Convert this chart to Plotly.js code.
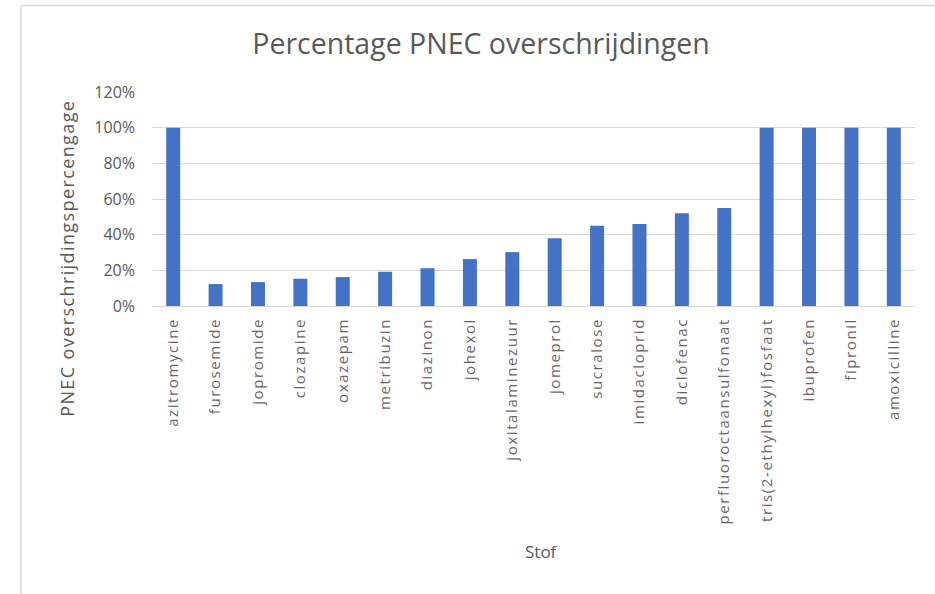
<!DOCTYPE html>
<html>
<head>
<meta charset="utf-8">
<script src="https://cdn.plot.ly/plotly-3.0.1.min.js"></script>
<style>
html,body{margin:0;padding:0;background:#fff;}
#chart{width:935px;height:594px;}
.xtick text{letter-spacing:1.6px;}
</style>
</head>
<body>
<div id="chart"></div>
<script>
const categories = ["azitromycine","furosemide","jopromide","clozapine","oxazepam","metribuzin","diazinon","johexol","joxitalaminezuur","jomeprol","sucralose","imidacloprid","diclofenac","perfluoroctaansulfonaat","tris(2-ethylhexyl)fosfaat","ibuprofen","fipronil","amoxicilline"];
const percentages = [1.00,0.123,0.134,0.153,0.162,0.192,0.212,0.263,0.302,0.38,0.45,0.46,0.52,0.55,1.00,1.00,1.00,1.00];
const chartTitle = "Percentage PNEC overschrijdingen";
const xTitle = "Stof";
const yTitle = "PNEC overschrijdingspercengage";

const L = 152, R = 915, T = 91.7, B = 306.3;
const pw = R - L, ph = B - T;
const px = x => (x - L) / pw;
const py = y => (B - y) / ph;

const trace = {
  type: 'bar',
  x: categories,
  y: percentages,
  marker: {color: '#4472C4'},
  hoverinfo: 'x+y'
};

const layout = {
  width: 935, height: 594,
  margin: {l: L, r: 935 - R, t: T, b: 594 - B},
  paper_bgcolor: '#ffffff', plot_bgcolor: '#ffffff',
  showlegend: false,
  bargap: 0.67,
  font: {family: 'Open Sans, sans-serif', color: '#595959'},
  title: {text: chartTitle, font: {family: 'Open Sans, sans-serif', size: 28.5, color: '#595959'}, x: px(481), xref: 'paper', xanchor: 'center', y: 1 - 44/594, yanchor: 'middle'},
  xaxis: {
    type: 'category',
    tickangle: -90,
    tickfont: {family: 'Open Sans, sans-serif', size: 15, color: '#666666'},
    ticks: '', showgrid: false, showline: false, zeroline: false,
    ticklabelstandoff: 8,
    automargin: false
  },
  yaxis: {
    range: [0, 1.2], dtick: 0.2, tick0: 0,
    tickformat: '.0%',
    tickfont: {family: 'Open Sans, sans-serif', size: 16, color: '#595959'},
    ticks: '', showline: false,
    gridcolor: '#d9d9d9', gridwidth: 1,
    zeroline: true, zerolinecolor: '#d9d9d9', zerolinewidth: 1,
    ticklabelstandoff: 16,
    automargin: false
  },
  annotations: [
    {text: yTitle, xref: 'paper', yref: 'paper', x: px(67), y: py(259), xanchor: 'center', yanchor: 'middle', textangle: -90, showarrow: false, font: {family: 'Open Sans, sans-serif', size: 18, color: '#595959'}},
    {text: xTitle, xref: 'paper', yref: 'paper', x: px(541), y: py(552), xanchor: 'center', yanchor: 'middle', showarrow: false, font: {family: 'Open Sans, sans-serif', size: 17, color: '#595959'}}
  ],
  shapes: [
    {type: 'line', xref: 'paper', yref: 'paper', x0: px(21), x1: px(940), y0: py(5), y1: py(5), line: {color: '#d9d9d9', width: 1.5}},
    {type: 'line', xref: 'paper', yref: 'paper', x0: px(21), x1: px(21), y0: py(5), y1: py(600), line: {color: '#d9d9d9', width: 1.5}}
  ]
};

Plotly.newPlot('chart', [trace], layout, {displayModeBar: false, staticPlot: true}).then(() => {
  const ann = document.querySelectorAll('#chart .annotation-text');
  if (ann[0]) ann[0].style.letterSpacing = '1.4px';
});
</script>
</body>
</html>
